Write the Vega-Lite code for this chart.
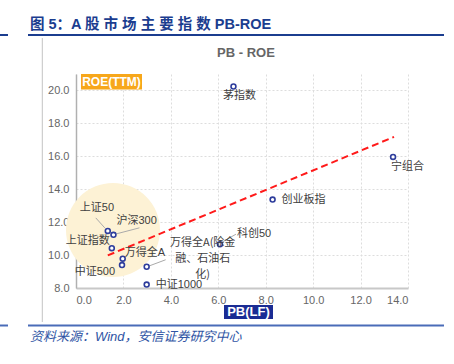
{
  "$schema": "https://vega.github.io/schema/vega-lite/v6.json",
  "width": 332,
  "height": 214,
  "autosize": {"type": "none"},
  "padding": {"left": 76, "top": 74, "right": 46, "bottom": 76},
  "background": "white",
  "config": {"view": {"stroke": null}, "text": {"font": "Liberation Sans, Noto Sans CJK SC"}, "axis": {"labelOverlap": false, "labelSeparation": 0}},
  "data": {"values": [
    {"name": "茅指数", "pb": 6.64, "roe": 20.24},
    {"name": "宁组合", "pb": 13.37, "roe": 15.96},
    {"name": "创业板指", "pb": 8.29, "roe": 13.37},
    {"name": "科创50", "pb": 6.07, "roe": 10.66},
    {"name": "上证50", "pb": 1.34, "roe": 11.47},
    {"name": "沪深300", "pb": 1.58, "roe": 11.23},
    {"name": "上证指数", "pb": 1.51, "roe": 10.42},
    {"name": "万得全A", "pb": 1.97, "roe": 9.78},
    {"name": "中证500", "pb": 1.94, "roe": 9.39},
    {"name": "万得全A(除金融、石油石化)", "pb": 2.98, "roe": 9.29},
    {"name": "中证1000", "pb": 2.98, "roe": 8.21}
  ]},
  "layer": [
    {
      "mark": {"type": "point", "filled": true, "color": "#2e3d9c", "opacity": 0, "size": 1},
      "encoding": {
        "x": {"field": "pb", "type": "quantitative", "scale": {"domain": [0, 14], "nice": false, "zero": false}, "title": null,
          "axis": {"values": [0, 2, 4, 6, 8, 10, 12, 14], "tickCount": 20, "format": ".1f", "title": null, "grid": true, "gridDash": [2, 2], "gridColor": "#dddddd", "ticks": false, "labelOverlap": false, "labelPadding": 6, "labelColor": "#666666", "labelFont": "Liberation Sans", "labelFontSize": 11, "domainColor": "#c8c8c8", "domainWidth": 2}},
        "y": {"field": "roe", "type": "quantitative", "scale": {"domain": [8, 21], "nice": false, "zero": false}, "title": null,
          "axis": {"values": [8, 10, 12, 14, 16, 18, 20], "tickCount": 20, "format": ".1f", "title": null, "grid": true, "gridDash": [2, 2], "gridColor": "#dddddd", "ticks": false, "labelOverlap": false, "labelPadding": 7, "labelColor": "#666666", "labelFont": "Liberation Sans", "labelFontSize": 11, "domainColor": "#b0b0b0", "domainWidth": 1.5}}
      }
    },
    {
      "data": {"values": [{}]},
      "mark": {"type": "point", "filled": true, "shape": "circle", "size": 8836, "color": "#fdf2d5", "opacity": 1},
      "encoding": {
        "x": {"datum": 1.56, "type": "quantitative", "scale": {"domain": [0, 14], "nice": false, "zero": false}, "title": null},
        "y": {"datum": 11.52, "type": "quantitative", "scale": {"domain": [8, 21], "nice": false, "zero": false}, "title": null}
      }
    },
    {
      "transform": [{"regression": "roe", "on": "pb", "extent": [1.34, 13.41]}],
      "mark": {"type": "line", "color": "#ff1a1a", "strokeWidth": 2, "strokeDash": [7, 4]},
      "encoding": {
        "x": {"field": "pb", "type": "quantitative", "scale": {"domain": [0, 14], "nice": false, "zero": false}, "title": null},
        "y": {"field": "roe", "type": "quantitative", "scale": {"domain": [8, 21], "nice": false, "zero": false}, "title": null}
      }
    },
    {
      "transform": [{"filter": "datum.name === '科创50'"}],
      "mark": {"type": "rule", "color": "#aaaaaa", "strokeWidth": 1, "xOffset": 2, "yOffset": -2, "x2Offset": 16, "y2Offset": -10},
      "encoding": {
        "x": {"field": "pb", "type": "quantitative", "title": null}, "x2": {"field": "pb"},
        "y": {"field": "roe", "type": "quantitative", "title": null}, "y2": {"field": "roe"}
      }
    },
    {
      "transform": [{"filter": "datum.name === '上证50'"}],
      "mark": {"type": "rule", "color": "#aaaaaa", "strokeWidth": 1, "xOffset": -3, "yOffset": -3, "x2Offset": -12, "y2Offset": -13},
      "encoding": {
        "x": {"field": "pb", "type": "quantitative", "title": null}, "x2": {"field": "pb"},
        "y": {"field": "roe", "type": "quantitative", "title": null}, "y2": {"field": "roe"}
      }
    },
    {
      "transform": [{"filter": "datum.name === '沪深300'"}],
      "mark": {"type": "rule", "color": "#aaaaaa", "strokeWidth": 1, "xOffset": 3, "yOffset": -1, "x2Offset": 26, "y2Offset": -7},
      "encoding": {
        "x": {"field": "pb", "type": "quantitative", "title": null}, "x2": {"field": "pb"},
        "y": {"field": "roe", "type": "quantitative", "title": null}, "y2": {"field": "roe"}
      }
    },
    {
      "transform": [{"filter": "datum.name === '万得全A(除金融、石油石化)'"}],
      "mark": {"type": "rule", "color": "#aaaaaa", "strokeWidth": 1, "xOffset": 3, "yOffset": -1, "x2Offset": 19, "y2Offset": -7},
      "encoding": {
        "x": {"field": "pb", "type": "quantitative", "title": null}, "x2": {"field": "pb"},
        "y": {"field": "roe", "type": "quantitative", "title": null}, "y2": {"field": "roe"}
      }
    },
    {
      "mark": {"type": "point", "filled": false, "shape": "circle", "size": 24, "color": "#2e3d9c", "fill": "white", "strokeWidth": 1.6, "opacity": 1},
      "encoding": {
        "x": {"field": "pb", "type": "quantitative", "title": null},
        "y": {"field": "roe", "type": "quantitative", "title": null}
      }
    },
    {
      "transform": [{"filter": "datum.name === '茅指数'"}],
      "mark": {"type": "text", "fontSize": 11, "color": "#404040", "align": "center", "baseline": "middle", "dx": 6, "dy": 9},
      "encoding": {"x": {"field": "pb", "type": "quantitative", "title": null}, "y": {"field": "roe", "type": "quantitative", "title": null}, "text": {"field": "name"}}
    },
    {
      "transform": [{"filter": "datum.name === '宁组合'"}],
      "mark": {"type": "text", "fontSize": 11, "color": "#404040", "align": "left", "baseline": "middle", "dx": -2, "dy": 10},
      "encoding": {"x": {"field": "pb", "type": "quantitative", "title": null}, "y": {"field": "roe", "type": "quantitative", "title": null}, "text": {"field": "name"}}
    },
    {
      "transform": [{"filter": "datum.name === '创业板指' || datum.name === '中证1000'"}],
      "mark": {"type": "text", "fontSize": 11, "color": "#404040", "align": "left", "baseline": "middle", "dx": 9, "dy": 0},
      "encoding": {"x": {"field": "pb", "type": "quantitative", "title": null}, "y": {"field": "roe", "type": "quantitative", "title": null}, "text": {"field": "name"}}
    },
    {
      "transform": [{"filter": "datum.name === '科创50'"}],
      "mark": {"type": "text", "fontSize": 11, "color": "#404040", "align": "left", "baseline": "middle", "dx": 17, "dy": -10},
      "encoding": {"x": {"field": "pb", "type": "quantitative", "title": null}, "y": {"field": "roe", "type": "quantitative", "title": null}, "text": {"field": "name"}}
    },
    {
      "transform": [{"filter": "datum.name === '上证50'"}],
      "mark": {"type": "text", "fontSize": 11, "color": "#404040", "align": "left", "baseline": "middle", "dx": -28, "dy": -23},
      "encoding": {"x": {"field": "pb", "type": "quantitative", "title": null}, "y": {"field": "roe", "type": "quantitative", "title": null}, "text": {"field": "name"}}
    },
    {
      "transform": [{"filter": "datum.name === '沪深300'"}],
      "mark": {"type": "text", "fontSize": 11, "color": "#404040", "align": "left", "baseline": "middle", "dx": 3, "dy": -14},
      "encoding": {"x": {"field": "pb", "type": "quantitative", "title": null}, "y": {"field": "roe", "type": "quantitative", "title": null}, "text": {"field": "name"}}
    },
    {
      "transform": [{"filter": "datum.name === '上证指数'"}],
      "mark": {"type": "text", "fontSize": 11, "color": "#404040", "align": "right", "baseline": "middle", "dx": -2, "dy": -7},
      "encoding": {"x": {"field": "pb", "type": "quantitative", "title": null}, "y": {"field": "roe", "type": "quantitative", "title": null}, "text": {"field": "name"}}
    },
    {
      "transform": [{"filter": "datum.name === '万得全A'"}],
      "mark": {"type": "text", "fontSize": 11, "color": "#404040", "align": "left", "baseline": "middle", "dx": 2, "dy": -6},
      "encoding": {"x": {"field": "pb", "type": "quantitative", "title": null}, "y": {"field": "roe", "type": "quantitative", "title": null}, "text": {"field": "name"}}
    },
    {
      "transform": [{"filter": "datum.name === '中证500'"}],
      "mark": {"type": "text", "fontSize": 11, "color": "#404040", "align": "right", "baseline": "middle", "dx": -7, "dy": 7},
      "encoding": {"x": {"field": "pb", "type": "quantitative", "title": null}, "y": {"field": "roe", "type": "quantitative", "title": null}, "text": {"field": "name"}}
    },
    {
      "transform": [{"filter": "datum.name === '万得全A(除金融、石油石化)'"}],
      "mark": {"type": "text", "font": "Noto Sans CJK SC", "fontSize": 11, "color": "#404040", "align": "center", "baseline": "middle", "dx": 56, "dy": -24, "lineHeight": 16},
      "encoding": {"x": {"field": "pb", "type": "quantitative", "title": null}, "y": {"field": "roe", "type": "quantitative", "title": null}, "text": {"value": ["万得全A(除金", "融、石油石", "化)"]}}
    },
    {
      "data": {"values": [{}]},
      "mark": {"type": "rect", "color": "#f7a71b"},
      "encoding": {"x": {"datum": 0.211, "type": "quantitative", "title": null}, "x2": {"datum": 2.783}, "y": {"datum": 21, "type": "quantitative", "title": null}, "y2": {"datum": 20.06}}
    },
    {
      "data": {"values": [{}]},
      "mark": {"type": "text", "text": "ROE(TTM)", "color": "white", "fontWeight": "bold", "fontSize": 12, "align": "center", "baseline": "middle"},
      "encoding": {"x": {"datum": 1.497, "type": "quantitative", "title": null}, "y": {"datum": 20.5, "type": "quantitative", "title": null}}
    },
    {
      "data": {"values": [{}]},
      "mark": {"type": "rect", "color": "#1a2c94"},
      "encoding": {"x": {"datum": 6.241, "type": "quantitative", "title": null}, "x2": {"datum": 8.307}, "y": {"datum": 6.967, "type": "quantitative", "title": null}, "y2": {"datum": 6.117}}
    },
    {
      "data": {"values": [{}]},
      "mark": {"type": "text", "text": "PB(LF)", "color": "white", "fontWeight": "bold", "fontSize": 13, "align": "center", "baseline": "middle"},
      "encoding": {"x": {"datum": 7.274, "type": "quantitative", "title": null}, "y": {"datum": 6.542, "type": "quantitative", "title": null}}
    },
    {
      "data": {"values": [{}]},
      "mark": {"type": "text", "text": "PB - ROE", "color": "#666666", "fontWeight": "bold", "fontSize": 13, "align": "center", "baseline": "middle"},
      "encoding": {"x": {"datum": 7.169, "type": "quantitative", "title": null}, "y": {"datum": 22.257, "type": "quantitative", "title": null}}
    },
    {
      "data": {"values": [{}]},
      "mark": {"type": "text", "text": "图 5：A 股 市 场 主 要 指 数 PB-ROE", "color": "#1b3d8f", "fontWeight": "bold", "fontSize": 14.5, "align": "left", "baseline": "middle"},
      "encoding": {"x": {"datum": -1.94, "type": "quantitative", "title": null}, "y": {"datum": 24.007, "type": "quantitative", "title": null}}
    },
    {
      "data": {"values": [{}]},
      "mark": {"type": "text", "text": "资料来源：Wind，安信证券研究中心", "color": "#2f55a4", "fontStyle": "italic", "fontSize": 13, "align": "left", "baseline": "middle"},
      "encoding": {"x": {"datum": -1.94, "type": "quantitative", "title": null}, "y": {"datum": 5.023, "type": "quantitative", "title": null}}
    },
    {
      "data": {"values": [{}]},
      "mark": {"type": "rule", "color": "#1b3d8f", "strokeWidth": 2},
      "encoding": {"x": {"datum": -2.024, "type": "quantitative", "title": null}, "x2": {"datum": 15.518}, "y": {"datum": 23.369, "type": "quantitative", "title": null}}
    },
    {
      "data": {"values": [{}]},
      "mark": {"type": "rule", "color": "#1b3d8f", "strokeWidth": 2},
      "encoding": {"x": {"datum": -3.3, "type": "quantitative", "title": null}, "x2": {"datum": -2.867}, "y": {"datum": 23.369, "type": "quantitative", "title": null}}
    },
    {
      "data": {"values": [{}]},
      "mark": {"type": "rule", "color": "#4a6cb8", "strokeWidth": 2},
      "encoding": {"x": {"datum": -2.024, "type": "quantitative", "title": null}, "x2": {"datum": 15.518}, "y": {"datum": 5.722, "type": "quantitative", "title": null}}
    },
    {
      "data": {"values": [{}]},
      "mark": {"type": "rule", "color": "#4a6cb8", "strokeWidth": 2},
      "encoding": {"x": {"datum": -3.3, "type": "quantitative", "title": null}, "x2": {"datum": -2.867}, "y": {"datum": 5.722, "type": "quantitative", "title": null}}
    },
    {
      "data": {"values": [{}]},
      "mark": {"type": "rule", "color": "#c4c4c4", "strokeWidth": 1},
      "encoding": {"x": {"datum": -1.421, "type": "quantitative", "title": null}, "y": {"datum": 23.187, "type": "quantitative", "title": null}, "y2": {"datum": 5.934}}
    }
  ]
}
